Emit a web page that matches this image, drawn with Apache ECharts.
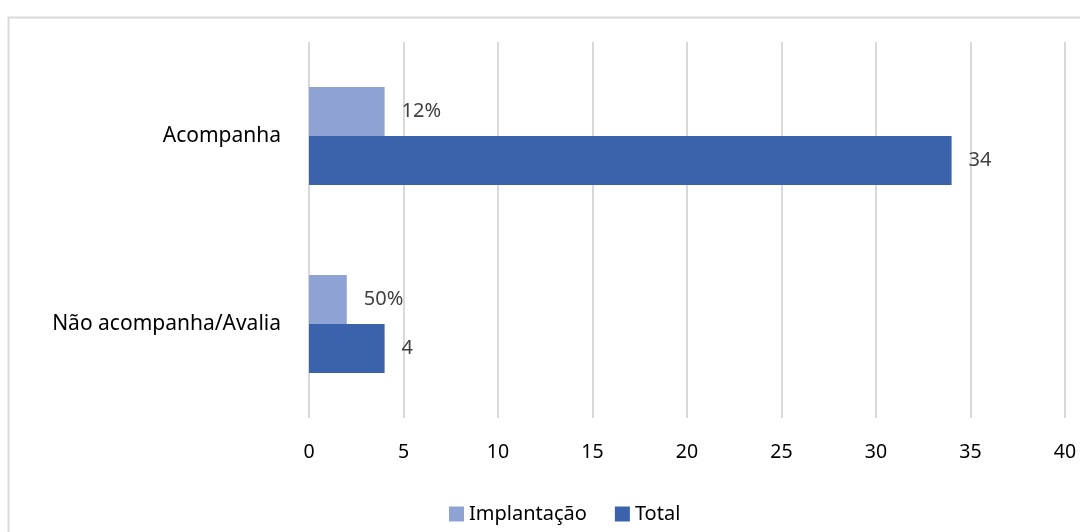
<!DOCTYPE html>
<html>
<head>
<meta charset="utf-8">
<script src="https://cdn.jsdelivr.net/npm/echarts@6/dist/echarts.min.js"></script>
<style>
  html, body { margin: 0; padding: 0; background: #fff; }
  #chart { width: 1080px; height: 532px; }
</style>
</head>
<body>
<div id="chart"></div>
<script>
// dados
var categories = ["Acompanha", "Não acompanha/Avalia"];
var implantacao = [4, 2];
var total = [34, 4];
var implantacaoLabels = ["12%", "50%"];
var xTicks = { min: 0, max: 40, interval: 5 };

var chart = echarts.init(document.getElementById("chart"));
var font = "Noto Sans";

var option = {
  animation: false,
  textStyle: { fontFamily: font },
  graphic: [
    {
      type: "rect",
      shape: { x: 8.5, y: 17.5, width: 1200, height: 700 },
      style: { fill: "none", stroke: "#d9d9d9", lineWidth: 2 },
      silent: true,
    },
  ],
  grid: { left: 309, right: 15, top: 42, bottom: 114 },
  legend: {
    left: 444,
    top: 499,
    itemWidth: 15,
    itemHeight: 15,
    itemGap: 28,
    icon: "rect",
    textStyle: { fontSize: 20, color: "#000", fontFamily: font },
    data: ["Implantação", "Total"],
  },
  xAxis: {
    type: "value",
    min: xTicks.min,
    max: xTicks.max,
    interval: xTicks.interval,
    axisLine: { show: false },
    axisTick: { show: false },
    axisLabel: { fontSize: 19.5, color: "#000", margin: 24 },
    splitLine: { lineStyle: { color: "#d9d9d9", width: 2 } },
  },
  yAxis: {
    type: "category",
    inverse: true,
    data: categories,
    axisLine: { show: false },
    axisTick: { show: false },
    axisLabel: { fontSize: 21, color: "#000", margin: 28 },
  },
  series: [
    {
      name: "Implantação",
      type: "bar",
      data: implantacao,
      barGap: "0%",
      barCategoryGap: "48%",
      itemStyle: { color: "#8fa2d4" },
      label: {
        show: true,
        position: "right",
        distance: 17,
        fontSize: 20,
        color: "#404040",
        formatter: function (p) {
          return implantacaoLabels[p.dataIndex];
        },
      },
    },
    {
      name: "Total",
      type: "bar",
      data: total,
      barGap: "0%",
      barCategoryGap: "48%",
      itemStyle: { color: "#3a63ab" },
      label: {
        show: true,
        position: "right",
        distance: 17,
        fontSize: 20,
        color: "#404040",
      },
    },
  ],
};
chart.setOption(option);
</script>
</body>
</html>
